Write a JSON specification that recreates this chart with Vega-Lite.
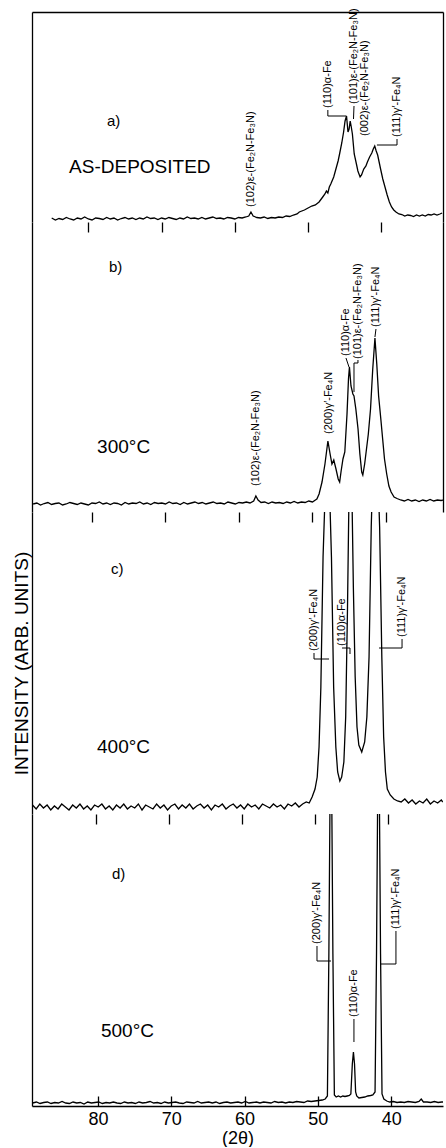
{
"$schema":"https://vega.github.io/schema/vega-lite/v6.json",
"background":"white",
"padding":{"left":12,"top":8,"right":2,"bottom":0},
"autosize":{"type":"pad"},
"spacing":0,
"bounds":"flush",
"config":{"view":{"stroke":null},"axis":{"grid":false,"domainColor":"black","tickColor":"black","labelColor":"black","titleColor":"black","labelFont":"Liberation Sans","titleFont":"Liberation Sans","titleFontWeight":"normal"},"text":{"font":"Liberation Sans","color":"black"}},
"datasets":{
"curve":[
{"p":"a","t":85.0,"i":1},{"p":"a","t":84.5,"i":-1},{"p":"a","t":84.0,"i":0.5},{"p":"a","t":83.5,"i":-0.5},{"p":"a","t":83.0,"i":1.5},{"p":"a","t":82.5,"i":0},{"p":"a","t":82.0,"i":-1},{"p":"a","t":81.5,"i":1},{"p":"a","t":81.0,"i":0},{"p":"a","t":80.5,"i":2},{"p":"a","t":80.0,"i":0},{"p":"a","t":79.5,"i":-1},{"p":"a","t":79.0,"i":1},{"p":"a","t":78.5,"i":0.5},{"p":"a","t":78.0,"i":-0.5},{"p":"a","t":77.5,"i":1.5},{"p":"a","t":77.0,"i":0},{"p":"a","t":76.5,"i":1},{"p":"a","t":76.0,"i":-1},{"p":"a","t":75.5,"i":0.5},{"p":"a","t":75.0,"i":1.5},{"p":"a","t":74.5,"i":0},{"p":"a","t":74.0,"i":1},{"p":"a","t":73.5,"i":-0.5},{"p":"a","t":73.0,"i":1},{"p":"a","t":72.5,"i":0},{"p":"a","t":72.0,"i":2},{"p":"a","t":71.5,"i":0.5},{"p":"a","t":71.0,"i":1},{"p":"a","t":70.5,"i":-0.5},{"p":"a","t":70.0,"i":1},{"p":"a","t":69.5,"i":0},{"p":"a","t":69.0,"i":1.5},{"p":"a","t":68.5,"i":0.5},{"p":"a","t":68.0,"i":-0.5},{"p":"a","t":67.5,"i":1},{"p":"a","t":67.0,"i":0},{"p":"a","t":66.5,"i":2},{"p":"a","t":66.0,"i":0.5},{"p":"a","t":65.5,"i":1},{"p":"a","t":65.0,"i":0},{"p":"a","t":64.5,"i":1.5},{"p":"a","t":64.0,"i":0},{"p":"a","t":63.5,"i":1},{"p":"a","t":63.0,"i":2},{"p":"a","t":62.5,"i":0.5},{"p":"a","t":62.0,"i":1},{"p":"a","t":61.5,"i":0},{"p":"a","t":61.0,"i":1.5},{"p":"a","t":60.5,"i":1},{"p":"a","t":60.0,"i":0},{"p":"a","t":59.5,"i":1.5},{"p":"a","t":59.0,"i":1},{"p":"a","t":58.5,"i":2},{"p":"a","t":58.1,"i":3},{"p":"a","t":57.8,"i":7},{"p":"a","t":57.5,"i":3},{"p":"a","t":57.0,"i":1.5},{"p":"a","t":56.5,"i":1},{"p":"a","t":56.0,"i":2},{"p":"a","t":55.5,"i":0.5},{"p":"a","t":55.0,"i":1.5},{"p":"a","t":54.5,"i":1},{"p":"a","t":54.0,"i":2},{"p":"a","t":53.5,"i":1.5},{"p":"a","t":53.0,"i":3},{"p":"a","t":52.5,"i":2.5},{"p":"a","t":52.0,"i":4},{"p":"a","t":51.5,"i":5},
{"p":"a","t":51.2,"i":7},{"p":"a","t":50.5,"i":9},{"p":"a","t":50.0,"i":11},{"p":"a","t":49.5,"i":13},{"p":"a","t":49.0,"i":14},{"p":"a","t":48.5,"i":17},{"p":"a","t":48.0,"i":22},{"p":"a","t":47.7,"i":25},{"p":"a","t":47.5,"i":28},{"p":"a","t":47.3,"i":26},{"p":"a","t":47.1,"i":32},{"p":"a","t":46.9,"i":35},{"p":"a","t":46.5,"i":42},{"p":"a","t":46.2,"i":50},{"p":"a","t":45.9,"i":58},{"p":"a","t":45.7,"i":65},{"p":"a","t":45.4,"i":76},{"p":"a","t":45.15,"i":87},{"p":"a","t":44.95,"i":98},{"p":"a","t":44.75,"i":103},{"p":"a","t":44.55,"i":87},{"p":"a","t":44.4,"i":90},{"p":"a","t":44.25,"i":98},{"p":"a","t":44.1,"i":92},{"p":"a","t":43.95,"i":85},{"p":"a","t":43.7,"i":65},{"p":"a","t":43.4,"i":55},{"p":"a","t":43.2,"i":48},{"p":"a","t":42.9,"i":42},{"p":"a","t":42.7,"i":44},{"p":"a","t":42.4,"i":50},{"p":"a","t":42.1,"i":53},{"p":"a","t":41.9,"i":57},{"p":"a","t":41.6,"i":62},{"p":"a","t":41.3,"i":66},{"p":"a","t":41.1,"i":70},{"p":"a","t":40.9,"i":73},{"p":"a","t":40.7,"i":68},{"p":"a","t":40.5,"i":64},{"p":"a","t":40.3,"i":57},{"p":"a","t":40.1,"i":50},{"p":"a","t":39.8,"i":40},{"p":"a","t":39.5,"i":32},{"p":"a","t":39.2,"i":24},{"p":"a","t":38.9,"i":17},{"p":"a","t":38.6,"i":12},{"p":"a","t":38.3,"i":9},{"p":"a","t":38.0,"i":7},{"p":"a","t":37.6,"i":5},{"p":"a","t":37.2,"i":4.5},{"p":"a","t":36.8,"i":3},{"p":"a","t":36.4,"i":4},{"p":"a","t":36.0,"i":3.5},{"p":"a","t":35.6,"i":2.5},{"p":"a","t":35.2,"i":4},{"p":"a","t":34.8,"i":3},{"p":"a","t":34.4,"i":4},{"p":"a","t":34.0,"i":3},{"p":"a","t":33.6,"i":4.5},{"p":"a","t":33.2,"i":4},{"p":"a","t":32.8,"i":5},{"p":"a","t":32.4,"i":4},{"p":"a","t":32.0,"i":5},{"p":"a","t":31.7,"i":6},

{"p":"b","t":88.0,"i":0},{"p":"b","t":87.5,"i":1},{"p":"b","t":87.0,"i":-1},{"p":"b","t":86.5,"i":0.5},{"p":"b","t":86.0,"i":1.5},{"p":"b","t":85.5,"i":-0.5},{"p":"b","t":85.0,"i":0.5},{"p":"b","t":84.5,"i":1},{"p":"b","t":84.0,"i":-1},{"p":"b","t":83.5,"i":0},{"p":"b","t":83.0,"i":1.5},{"p":"b","t":82.5,"i":0.5},{"p":"b","t":82.0,"i":-0.5},{"p":"b","t":81.5,"i":1},{"p":"b","t":81.0,"i":0},{"p":"b","t":80.5,"i":-1},{"p":"b","t":80.0,"i":1},{"p":"b","t":79.5,"i":0.5},{"p":"b","t":79.0,"i":2},{"p":"b","t":78.5,"i":0},{"p":"b","t":78.0,"i":1},{"p":"b","t":77.5,"i":-0.5},{"p":"b","t":77.0,"i":1},{"p":"b","t":76.5,"i":0.5},{"p":"b","t":76.0,"i":-1},{"p":"b","t":75.5,"i":1.5},{"p":"b","t":75.0,"i":0},{"p":"b","t":74.5,"i":1},{"p":"b","t":74.0,"i":0.5},{"p":"b","t":73.5,"i":2},{"p":"b","t":73.0,"i":0},{"p":"b","t":72.5,"i":1},{"p":"b","t":72.0,"i":-0.5},{"p":"b","t":71.5,"i":1.5},{"p":"b","t":71.0,"i":0.5},{"p":"b","t":70.5,"i":1},{"p":"b","t":70.0,"i":0},{"p":"b","t":69.5,"i":2},{"p":"b","t":69.0,"i":0.5},{"p":"b","t":68.5,"i":1},{"p":"b","t":68.0,"i":-0.5},{"p":"b","t":67.5,"i":1.5},{"p":"b","t":67.0,"i":0},{"p":"b","t":66.5,"i":1},{"p":"b","t":66.0,"i":2},{"p":"b","t":65.5,"i":0.5},{"p":"b","t":65.0,"i":1.5},{"p":"b","t":64.5,"i":0},{"p":"b","t":64.0,"i":1},{"p":"b","t":63.5,"i":2},{"p":"b","t":63.0,"i":0.5},{"p":"b","t":62.5,"i":1},{"p":"b","t":62.0,"i":0},{"p":"b","t":61.5,"i":2},{"p":"b","t":61.0,"i":1},{"p":"b","t":60.5,"i":0},{"p":"b","t":60.0,"i":1.5},{"p":"b","t":59.5,"i":1},{"p":"b","t":59.0,"i":2},{"p":"b","t":58.5,"i":1},{"p":"b","t":58.0,"i":3},{"p":"b","t":57.7,"i":8},{"p":"b","t":57.4,"i":4},{"p":"b","t":57.0,"i":1.5},{"p":"b","t":56.5,"i":2},{"p":"b","t":56.0,"i":0.5},{"p":"b","t":55.5,"i":2},{"p":"b","t":55.0,"i":1},{"p":"b","t":54.5,"i":1.5},{"p":"b","t":54.0,"i":0.5},{"p":"b","t":53.5,"i":2},{"p":"b","t":53.0,"i":1},{"p":"b","t":52.5,"i":2.5},{"p":"b","t":52.0,"i":1},{"p":"b","t":51.5,"i":2},{"p":"b","t":51.0,"i":1.5},{"p":"b","t":50.5,"i":3},{"p":"b","t":50.0,"i":2},{"p":"b","t":49.6,"i":4},
{"p":"b","t":49.4,"i":5},{"p":"b","t":49.1,"i":10},{"p":"b","t":48.7,"i":22},{"p":"b","t":48.3,"i":40},{"p":"b","t":47.9,"i":63},{"p":"b","t":47.6,"i":50},{"p":"b","t":47.35,"i":40},{"p":"b","t":47.1,"i":44},{"p":"b","t":46.8,"i":35},{"p":"b","t":46.5,"i":25},{"p":"b","t":46.3,"i":22},{"p":"b","t":46.1,"i":33},{"p":"b","t":45.85,"i":45},{"p":"b","t":45.6,"i":52},{"p":"b","t":45.3,"i":90},{"p":"b","t":45.1,"i":125},{"p":"b","t":44.97,"i":137},{"p":"b","t":44.76,"i":118},{"p":"b","t":44.5,"i":110},{"p":"b","t":44.35,"i":108},{"p":"b","t":44.1,"i":95},{"p":"b","t":43.8,"i":75},{"p":"b","t":43.55,"i":50},{"p":"b","t":43.3,"i":32},{"p":"b","t":43.15,"i":29},{"p":"b","t":42.9,"i":40},{"p":"b","t":42.65,"i":55},{"p":"b","t":42.4,"i":70},{"p":"b","t":42.1,"i":95},{"p":"b","t":41.8,"i":135},{"p":"b","t":41.5,"i":166},{"p":"b","t":41.25,"i":140},{"p":"b","t":41.0,"i":108},{"p":"b","t":40.7,"i":85},{"p":"b","t":40.45,"i":65},{"p":"b","t":40.2,"i":45},{"p":"b","t":39.9,"i":30},{"p":"b","t":39.6,"i":18},{"p":"b","t":39.3,"i":12},{"p":"b","t":38.9,"i":7},{"p":"b","t":38.5,"i":5.5},{"p":"b","t":38.0,"i":4},{"p":"b","t":37.5,"i":3},{"p":"b","t":37.0,"i":4.5},{"p":"b","t":36.5,"i":3},{"p":"b","t":36.0,"i":4},{"p":"b","t":35.5,"i":2.5},{"p":"b","t":35.0,"i":4},{"p":"b","t":34.5,"i":3},{"p":"b","t":34.0,"i":4.5},{"p":"b","t":33.5,"i":3},{"p":"b","t":33.0,"i":4},{"p":"b","t":32.5,"i":3.5},{"p":"b","t":32.2,"i":4},

{"p":"c","t":88.7,"i":2},{"p":"c","t":88.2,"i":-2},{"p":"c","t":87.7,"i":3},{"p":"c","t":87.2,"i":-1},{"p":"c","t":86.7,"i":2},{"p":"c","t":86.2,"i":-3},{"p":"c","t":85.7,"i":1},{"p":"c","t":85.2,"i":-2},{"p":"c","t":84.7,"i":3},{"p":"c","t":84.2,"i":0},{"p":"c","t":83.7,"i":-3},{"p":"c","t":83.2,"i":2},{"p":"c","t":82.7,"i":-1},{"p":"c","t":82.2,"i":3},{"p":"c","t":81.7,"i":-2},{"p":"c","t":81.2,"i":1},{"p":"c","t":80.7,"i":-3},{"p":"c","t":80.2,"i":2},{"p":"c","t":79.7,"i":0},{"p":"c","t":79.2,"i":3},{"p":"c","t":78.7,"i":-2},{"p":"c","t":78.2,"i":1},{"p":"c","t":77.7,"i":-3},{"p":"c","t":77.2,"i":2},{"p":"c","t":76.7,"i":-1},{"p":"c","t":76.2,"i":3},{"p":"c","t":75.7,"i":-2},{"p":"c","t":75.2,"i":1},{"p":"c","t":74.7,"i":-1},{"p":"c","t":74.2,"i":3},{"p":"c","t":73.7,"i":-3},{"p":"c","t":73.2,"i":2},{"p":"c","t":72.7,"i":0},{"p":"c","t":72.2,"i":-2},{"p":"c","t":71.7,"i":3},{"p":"c","t":71.2,"i":-1},{"p":"c","t":70.7,"i":2},{"p":"c","t":70.2,"i":-3},{"p":"c","t":69.7,"i":1},{"p":"c","t":69.2,"i":3},{"p":"c","t":68.7,"i":-2},{"p":"c","t":68.2,"i":2},{"p":"c","t":67.7,"i":-1},{"p":"c","t":67.2,"i":3},{"p":"c","t":66.7,"i":-2},{"p":"c","t":66.2,"i":1},{"p":"c","t":65.7,"i":3},{"p":"c","t":65.2,"i":-1},{"p":"c","t":64.7,"i":2},{"p":"c","t":64.2,"i":-3},{"p":"c","t":63.7,"i":2},{"p":"c","t":63.2,"i":0},{"p":"c","t":62.7,"i":3},{"p":"c","t":62.2,"i":-2},{"p":"c","t":61.7,"i":1},{"p":"c","t":61.2,"i":3},{"p":"c","t":60.7,"i":-1},{"p":"c","t":60.2,"i":2},{"p":"c","t":59.7,"i":-2},{"p":"c","t":59.2,"i":3},{"p":"c","t":58.7,"i":0},{"p":"c","t":58.2,"i":2},{"p":"c","t":57.7,"i":-2},{"p":"c","t":57.2,"i":3},{"p":"c","t":56.7,"i":1},{"p":"c","t":56.2,"i":-1},{"p":"c","t":55.7,"i":3},{"p":"c","t":55.2,"i":0},{"p":"c","t":54.7,"i":2},{"p":"c","t":54.2,"i":-2},{"p":"c","t":53.7,"i":3},{"p":"c","t":53.2,"i":1},{"p":"c","t":52.7,"i":4},{"p":"c","t":52.2,"i":0},{"p":"c","t":51.7,"i":3},{"p":"c","t":51.2,"i":5},{"p":"c","t":50.8,"i":4},{"p":"c","t":50.4,"i":10},
{"p":"c","t":50.0,"i":18},{"p":"c","t":49.7,"i":30},{"p":"c","t":49.45,"i":60},{"p":"c","t":49.2,"i":120},{"p":"c","t":48.9,"i":250},{"p":"c","t":48.5,"i":340},{"p":"c","t":48.1,"i":340},{"p":"c","t":47.75,"i":250},{"p":"c","t":47.45,"i":120},{"p":"c","t":47.15,"i":60},{"p":"c","t":46.9,"i":35},{"p":"c","t":46.6,"i":26},{"p":"c","t":46.35,"i":30},{"p":"c","t":46.05,"i":45},{"p":"c","t":45.8,"i":90},{"p":"c","t":45.55,"i":200},{"p":"c","t":45.3,"i":340},{"p":"c","t":45.0,"i":340},{"p":"c","t":44.75,"i":220},{"p":"c","t":44.5,"i":130},{"p":"c","t":44.25,"i":80},{"p":"c","t":44.0,"i":62},{"p":"c","t":43.6,"i":55},{"p":"c","t":43.2,"i":65},{"p":"c","t":42.9,"i":90},{"p":"c","t":42.6,"i":150},{"p":"c","t":42.3,"i":280},{"p":"c","t":42.0,"i":360},{"p":"c","t":41.5,"i":360},{"p":"c","t":41.15,"i":280},{"p":"c","t":40.85,"i":150},{"p":"c","t":40.6,"i":70},{"p":"c","t":40.35,"i":35},{"p":"c","t":40.1,"i":18},{"p":"c","t":39.7,"i":12},{"p":"c","t":39.2,"i":8},{"p":"c","t":38.7,"i":6},{"p":"c","t":38.2,"i":5},{"p":"c","t":37.7,"i":8},{"p":"c","t":37.2,"i":4},{"p":"c","t":36.7,"i":7},{"p":"c","t":36.2,"i":3},{"p":"c","t":35.7,"i":6},{"p":"c","t":35.2,"i":4},{"p":"c","t":34.7,"i":8},{"p":"c","t":34.2,"i":3},{"p":"c","t":33.7,"i":6},{"p":"c","t":33.2,"i":4},{"p":"c","t":32.7,"i":7},{"p":"c","t":32.5,"i":5},

{"p":"d","t":88.9,"i":1},{"p":"d","t":88.4,"i":2},{"p":"d","t":87.9,"i":0.5},{"p":"d","t":87.4,"i":1.5},{"p":"d","t":86.9,"i":2},{"p":"d","t":86.4,"i":0.5},{"p":"d","t":85.9,"i":1.5},{"p":"d","t":85.4,"i":1},{"p":"d","t":84.9,"i":2.5},{"p":"d","t":84.4,"i":1},{"p":"d","t":83.9,"i":0.5},{"p":"d","t":83.4,"i":2},{"p":"d","t":82.9,"i":1},{"p":"d","t":82.4,"i":1.5},{"p":"d","t":81.9,"i":0},{"p":"d","t":81.4,"i":2},{"p":"d","t":80.9,"i":1},{"p":"d","t":80.4,"i":1.5},{"p":"d","t":79.9,"i":2},{"p":"d","t":79.4,"i":0.5},{"p":"d","t":78.9,"i":1.5},{"p":"d","t":78.4,"i":1},{"p":"d","t":77.9,"i":2},{"p":"d","t":77.4,"i":1},{"p":"d","t":76.9,"i":0.5},{"p":"d","t":76.4,"i":2},{"p":"d","t":75.9,"i":1},{"p":"d","t":75.4,"i":1.5},{"p":"d","t":74.9,"i":0.5},{"p":"d","t":74.4,"i":2},{"p":"d","t":73.9,"i":1},{"p":"d","t":73.4,"i":1.5},{"p":"d","t":72.9,"i":2.5},{"p":"d","t":72.4,"i":1},{"p":"d","t":71.9,"i":1.5},{"p":"d","t":71.4,"i":0.5},{"p":"d","t":70.9,"i":2},{"p":"d","t":70.4,"i":1},{"p":"d","t":69.9,"i":1.5},{"p":"d","t":69.4,"i":2},{"p":"d","t":68.9,"i":1},{"p":"d","t":68.4,"i":0.5},{"p":"d","t":67.9,"i":2},{"p":"d","t":67.4,"i":1.5},{"p":"d","t":66.9,"i":1},{"p":"d","t":66.4,"i":2.5},{"p":"d","t":65.9,"i":1},{"p":"d","t":65.4,"i":1.5},{"p":"d","t":64.9,"i":2},{"p":"d","t":64.4,"i":1},{"p":"d","t":63.9,"i":2},{"p":"d","t":63.4,"i":0.5},{"p":"d","t":62.9,"i":1.5},{"p":"d","t":62.4,"i":2},{"p":"d","t":61.9,"i":1},{"p":"d","t":61.4,"i":1.5},{"p":"d","t":60.9,"i":2},{"p":"d","t":60.4,"i":1},{"p":"d","t":59.9,"i":2.5},{"p":"d","t":59.4,"i":1},{"p":"d","t":58.9,"i":1.5},{"p":"d","t":58.4,"i":2},{"p":"d","t":57.9,"i":1},{"p":"d","t":57.4,"i":2},{"p":"d","t":56.9,"i":1.5},{"p":"d","t":56.4,"i":1},{"p":"d","t":55.9,"i":2.5},{"p":"d","t":55.4,"i":1.5},{"p":"d","t":54.9,"i":2},{"p":"d","t":54.4,"i":1},{"p":"d","t":53.9,"i":2},{"p":"d","t":53.4,"i":1.5},{"p":"d","t":52.9,"i":2.5},{"p":"d","t":52.4,"i":2},{"p":"d","t":51.9,"i":1.5},{"p":"d","t":51.4,"i":3},{"p":"d","t":50.9,"i":2.5},{"p":"d","t":50.4,"i":3},{"p":"d","t":49.9,"i":3.5},{"p":"d","t":49.4,"i":4},{"p":"d","t":49.0,"i":5},
{"p":"d","t":48.7,"i":8},{"p":"d","t":48.5,"i":150},{"p":"d","t":48.35,"i":300},{"p":"d","t":48.1,"i":300},{"p":"d","t":47.95,"i":150},{"p":"d","t":47.75,"i":9},{"p":"d","t":47.5,"i":7},{"p":"d","t":47.2,"i":8},{"p":"d","t":46.9,"i":7},{"p":"d","t":46.6,"i":8},{"p":"d","t":46.3,"i":7.5},{"p":"d","t":46.0,"i":8},{"p":"d","t":45.7,"i":8.5},{"p":"d","t":45.5,"i":10},{"p":"d","t":45.3,"i":40},{"p":"d","t":45.15,"i":52},{"p":"d","t":45.0,"i":40},{"p":"d","t":44.85,"i":12},{"p":"d","t":44.7,"i":8},{"p":"d","t":44.4,"i":6},{"p":"d","t":44.0,"i":6.5},{"p":"d","t":43.6,"i":7},{"p":"d","t":43.2,"i":8},{"p":"d","t":42.8,"i":8.5},{"p":"d","t":42.5,"i":9},{"p":"d","t":42.2,"i":12},{"p":"d","t":42.0,"i":150},{"p":"d","t":41.85,"i":300},{"p":"d","t":41.6,"i":300},{"p":"d","t":41.45,"i":150},{"p":"d","t":41.25,"i":10},{"p":"d","t":41.0,"i":5},{"p":"d","t":40.6,"i":3},{"p":"d","t":40.2,"i":2},{"p":"d","t":39.7,"i":2.5},{"p":"d","t":39.2,"i":1.5},{"p":"d","t":38.7,"i":2},{"p":"d","t":38.2,"i":1.5},{"p":"d","t":37.7,"i":2.5},{"p":"d","t":37.2,"i":2},{"p":"d","t":36.7,"i":1.5},{"p":"d","t":36.2,"i":2.5},{"p":"d","t":35.9,"i":5},{"p":"d","t":35.6,"i":2},{"p":"d","t":35.1,"i":2},{"p":"d","t":34.6,"i":1.5},{"p":"d","t":34.1,"i":2.5},{"p":"d","t":33.6,"i":1.5},{"p":"d","t":33.1,"i":2},{"p":"d","t":32.9,"i":2}
],
"lab":[
{"p":"a","t":57.8,"i":12,"s":"(102)ε-(Fe₂N-Fe₃N)"},
{"p":"a","t":47.3,"i":111,"s":"(110)α-Fe"},
{"p":"a","t":43.73,"i":115,"s":"(101)ε-(Fe₂N-Fe₃N)"},
{"p":"a","t":42.2,"i":83,"s":"(002)ε-(Fe₂N-Fe₃N)"},
{"p":"a","t":37.86,"i":82,"s":"(111)γ′-Fe₄N"},
{"p":"b","t":57.7,"i":18,"s":"(102)ε-(Fe₂N-Fe₃N)"},
{"p":"b","t":47.75,"i":70,"s":"(200)γ′-Fe₄N"},
{"p":"b","t":45.44,"i":148,"s":"(110)α-Fe"},
{"p":"b","t":43.81,"i":145,"s":"(101)ε-(Fe₂N-Fe₃N)"},
{"p":"b","t":41.36,"i":177,"s":"(111)γ′-Fe₄N"},
{"p":"c","t":50.14,"i":156,"s":"(200)γ′-Fe₄N"},
{"p":"c","t":46.3,"i":161,"s":"(110)α-Fe"},
{"p":"c","t":38.08,"i":170,"s":"(111)γ′-Fe₄N"},
{"p":"d","t":50.12,"i":160,"s":"(200)γ′-Fe₄N"},
{"p":"d","t":45.08,"i":87,"s":"(110)α-Fe"},
{"p":"d","t":39.35,"i":175,"s":"(111)γ′-Fe₄N"}
],
"nm":[
{"p":"a","k":"tag","t":77.45,"i":98,"s":"a)"},
{"p":"a","k":"temp","t":82.63,"i":52,"s":"AS-DEPOSITED"},
{"p":"b","k":"tag","t":77.69,"i":237,"s":"b)"},
{"p":"b","k":"temp","t":79.3,"i":57,"s":"300°C"},
{"p":"c","k":"tag","t":77.95,"i":238,"s":"c)"},
{"p":"c","k":"temp","t":79.86,"i":60,"s":"400°C"},
{"p":"d","k":"tag","t":78.09,"i":230,"s":"d)"},
{"p":"d","k":"temp","t":79.59,"i":73,"s":"500°C"}
],
"lead":[
{"p":"a","g":"a1","o":0,"t":47.3,"i":109},{"p":"a","g":"a1","o":1,"t":47.3,"i":103},{"p":"a","g":"a1","o":2,"t":44.78,"i":103},
{"p":"a","g":"a2","o":0,"t":43.73,"i":113},{"p":"a","g":"a2","o":1,"t":43.8,"i":100},
{"p":"a","g":"a4","o":0,"t":37.86,"i":80},{"p":"a","g":"a4","o":1,"t":37.86,"i":74},{"p":"a","g":"a4","o":2,"t":40.6,"i":74},
{"p":"b","g":"b1","o":0,"t":45.44,"i":146},{"p":"b","g":"b1","o":1,"t":45.03,"i":137},
{"p":"b","g":"b2","o":0,"t":43.81,"i":144},{"p":"b","g":"b2","o":1,"t":43.81,"i":141},{"p":"b","g":"b2","o":2,"t":44.35,"i":141},{"p":"b","g":"b2","o":3,"t":44.35,"i":112},
{"p":"b","g":"b3","o":0,"t":41.36,"i":175},{"p":"b","g":"b3","o":1,"t":41.5,"i":167},
{"p":"c","g":"c1","o":0,"t":50.14,"i":154},{"p":"c","g":"c1","o":1,"t":50.14,"i":148},{"p":"c","g":"c1","o":2,"t":48.08,"i":148},
{"p":"c","g":"c2","o":0,"t":46.3,"i":159},{"p":"c","g":"c2","o":1,"t":45.21,"i":159},{"p":"c","g":"c2","o":2,"t":45.21,"i":153},
{"p":"c","g":"c3","o":0,"t":38.08,"i":168},{"p":"c","g":"c3","o":1,"t":38.08,"i":159},{"p":"c","g":"c3","o":2,"t":41.23,"i":159},
{"p":"d","g":"d1","o":0,"t":50.12,"i":158},{"p":"d","g":"d1","o":1,"t":50.12,"i":143},{"p":"d","g":"d1","o":2,"t":48.21,"i":143},
{"p":"d","g":"d2","o":0,"t":45.08,"i":85},{"p":"d","g":"d2","o":1,"t":45.08,"i":62},
{"p":"d","g":"d3","o":0,"t":39.35,"i":173},{"p":"d","g":"d3","o":1,"t":39.35,"i":140},{"p":"d","g":"d3","o":2,"t":41.39,"i":140}
]
},
"vconcat":[
{"width":411,"height":210,"resolve":{"axis":{"x":"independent","y":"independent"}},
"layer":[
{"data":{"name":"curve"},"transform":[{"filter":"datum.p==='a'"}],"mark":{"type":"line","color":"black","strokeWidth":1.3,"clip":true},
"encoding":{"x":{"field":"t","type":"quantitative","scale":{"domain":[31.58,87.69],"reverse":true,"nice":false,"zero":false},"axis":{"orient":"bottom","domain":false,"labels":false,"ticks":true,"tickSize":10,"tickWidth":1.3,"values":[40,50,60,70,80],"title":null}},
"y":{"field":"i","type":"quantitative","scale":{"domain":[-3,207],"nice":false,"zero":false},"axis":{"orient":"left","domain":true,"domainWidth":1.3,"labels":false,"ticks":false,"title":null}}}},
{"data":{"name":"lab"},"transform":[{"filter":"datum.p==='a'"}],"mark":{"type":"text","angle":270,"align":"left","baseline":"middle","fontSize":11},
"encoding":{"x":{"field":"t","type":"quantitative","axis":{"orient":"top","domain":true,"domainWidth":1.3,"labels":false,"ticks":false,"title":null}},"y":{"field":"i","type":"quantitative","axis":{"orient":"right","domain":true,"domainWidth":1.3,"labels":false,"ticks":false,"title":null}},"text":{"field":"s"}}},
{"data":{"name":"nm"},"transform":[{"filter":"datum.p==='a'"}],"mark":{"type":"text","align":"left","baseline":"middle"},
"encoding":{"x":{"field":"t","type":"quantitative","axis":null},"y":{"field":"i","type":"quantitative","axis":null},"text":{"field":"s"},"size":{"field":"k","type":"ordinal","scale":{"domain":["tag","temp"],"range":[15,19]},"legend":null}}},
{"data":{"name":"lead"},"transform":[{"filter":"datum.p==='a'"}],"mark":{"type":"line","color":"black","strokeWidth":1},
"encoding":{"x":{"field":"t","type":"quantitative","axis":null},"y":{"field":"i","type":"quantitative","axis":null},"detail":{"field":"g"},"order":{"field":"o"}}}
]},
{"width":411,"height":290,"resolve":{"axis":{"x":"independent","y":"independent"}},
"layer":[
{"data":{"name":"curve"},"transform":[{"filter":"datum.p==='b'"}],"mark":{"type":"line","color":"black","strokeWidth":1.3,"clip":true},
"encoding":{"x":{"field":"t","type":"quantitative","scale":{"domain":[32.24,88.16],"reverse":true,"nice":false,"zero":false},"axis":{"orient":"bottom","domain":false,"labels":false,"ticks":true,"tickSize":10,"tickWidth":1.3,"values":[40,50,60,70,80],"title":null}},
"y":{"field":"i","type":"quantitative","scale":{"domain":[-8,282],"nice":false,"zero":false},"axis":{"orient":"left","domain":true,"domainWidth":1.3,"labels":false,"ticks":false,"title":null}}}},
{"data":{"name":"lab"},"transform":[{"filter":"datum.p==='b'"}],"mark":{"type":"text","angle":270,"align":"left","baseline":"middle","fontSize":11},
"encoding":{"x":{"field":"t","type":"quantitative","axis":null},"y":{"field":"i","type":"quantitative","axis":{"orient":"right","domain":true,"domainWidth":1.3,"labels":false,"ticks":false,"title":null}},"text":{"field":"s"}}},
{"data":{"name":"nm"},"transform":[{"filter":"datum.p==='b'"}],"mark":{"type":"text","align":"left","baseline":"middle"},
"encoding":{"x":{"field":"t","type":"quantitative","axis":null},"y":{"field":"i","type":"quantitative","axis":null},"text":{"field":"s"},"size":{"field":"k","type":"ordinal","scale":{"domain":["tag","temp"],"range":[15,19]},"legend":null}}},
{"data":{"name":"lead"},"transform":[{"filter":"datum.p==='b'"}],"mark":{"type":"line","color":"black","strokeWidth":1},
"encoding":{"x":{"field":"t","type":"quantitative","axis":null},"y":{"field":"i","type":"quantitative","axis":null},"detail":{"field":"g"},"order":{"field":"o"}}}
]},
{"width":411,"height":302,"resolve":{"axis":{"x":"independent","y":"independent"}},
"layer":[
{"data":{"name":"curve"},"transform":[{"filter":"datum.p==='c'"}],"mark":{"type":"line","color":"black","strokeWidth":1.3,"clip":true},
"encoding":{"x":{"field":"t","type":"quantitative","scale":{"domain":[32.47,88.77],"reverse":true,"nice":false,"zero":false},"axis":{"orient":"bottom","domain":false,"labels":false,"ticks":true,"tickSize":10,"tickWidth":1.3,"values":[40,50,60,70,80],"title":null}},
"y":{"field":"i","type":"quantitative","scale":{"domain":[-7,295],"nice":false,"zero":false},"axis":{"orient":"left","domain":true,"domainWidth":1.3,"labels":false,"ticks":false,"title":"INTENSITY (ARB. UNITS)","titleFontSize":19,"titlePadding":1}}}},
{"data":{"name":"lab"},"transform":[{"filter":"datum.p==='c'"}],"mark":{"type":"text","angle":270,"align":"left","baseline":"middle","fontSize":11},
"encoding":{"x":{"field":"t","type":"quantitative","axis":null},"y":{"field":"i","type":"quantitative","axis":null},"text":{"field":"s"}}},
{"data":{"name":"nm"},"transform":[{"filter":"datum.p==='c'"}],"mark":{"type":"text","align":"left","baseline":"middle"},
"encoding":{"x":{"field":"t","type":"quantitative","axis":null},"y":{"field":"i","type":"quantitative","axis":null},"text":{"field":"s"},"size":{"field":"k","type":"ordinal","scale":{"domain":["tag","temp"],"range":[15,19]},"legend":null}}},
{"data":{"name":"lead"},"transform":[{"filter":"datum.p==='c'"}],"mark":{"type":"line","color":"black","strokeWidth":1},
"encoding":{"x":{"field":"t","type":"quantitative","axis":null},"y":{"field":"i","type":"quantitative","axis":null},"detail":{"field":"g"},"order":{"field":"o"}}}
]},
{"width":411,"height":292,"resolve":{"axis":{"x":"independent","y":"independent"}},
"layer":[
{"data":{"name":"curve"},"transform":[{"filter":"datum.p==='d'"}],"mark":{"type":"line","color":"black","strokeWidth":1.3,"clip":true},
"encoding":{"x":{"field":"t","type":"quantitative","scale":{"domain":[32.93,89.0],"reverse":true,"nice":false,"zero":false},"axis":{"orient":"bottom","domain":true,"domainWidth":1.3,"labels":true,"labelFontSize":18,"labelPadding":14,"ticks":true,"tickSize":-10,"tickWidth":1.3,"values":[40,50,60,70,80],"title":"(2θ)","titleFontSize":18,"titlePadding":1}},
"y":{"field":"i","type":"quantitative","scale":{"domain":[-2,290],"nice":false,"zero":false},"axis":{"orient":"left","domain":true,"domainWidth":1.3,"labels":false,"ticks":false,"title":null}}}},
{"data":{"name":"lab"},"transform":[{"filter":"datum.p==='d'"}],"mark":{"type":"text","angle":270,"align":"left","baseline":"middle","fontSize":11},
"encoding":{"x":{"field":"t","type":"quantitative","axis":null},"y":{"field":"i","type":"quantitative","axis":null},"text":{"field":"s"}}},
{"data":{"name":"nm"},"transform":[{"filter":"datum.p==='d'"}],"mark":{"type":"text","align":"left","baseline":"middle"},
"encoding":{"x":{"field":"t","type":"quantitative","axis":null},"y":{"field":"i","type":"quantitative","axis":null},"text":{"field":"s"},"size":{"field":"k","type":"ordinal","scale":{"domain":["tag","temp"],"range":[15,19]},"legend":null}}},
{"data":{"name":"lead"},"transform":[{"filter":"datum.p==='d'"}],"mark":{"type":"line","color":"black","strokeWidth":1},
"encoding":{"x":{"field":"t","type":"quantitative","axis":null},"y":{"field":"i","type":"quantitative","axis":null},"detail":{"field":"g"},"order":{"field":"o"}}}
]}
],
"resolve":{"scale":{"x":"independent","y":"independent"}}
}
